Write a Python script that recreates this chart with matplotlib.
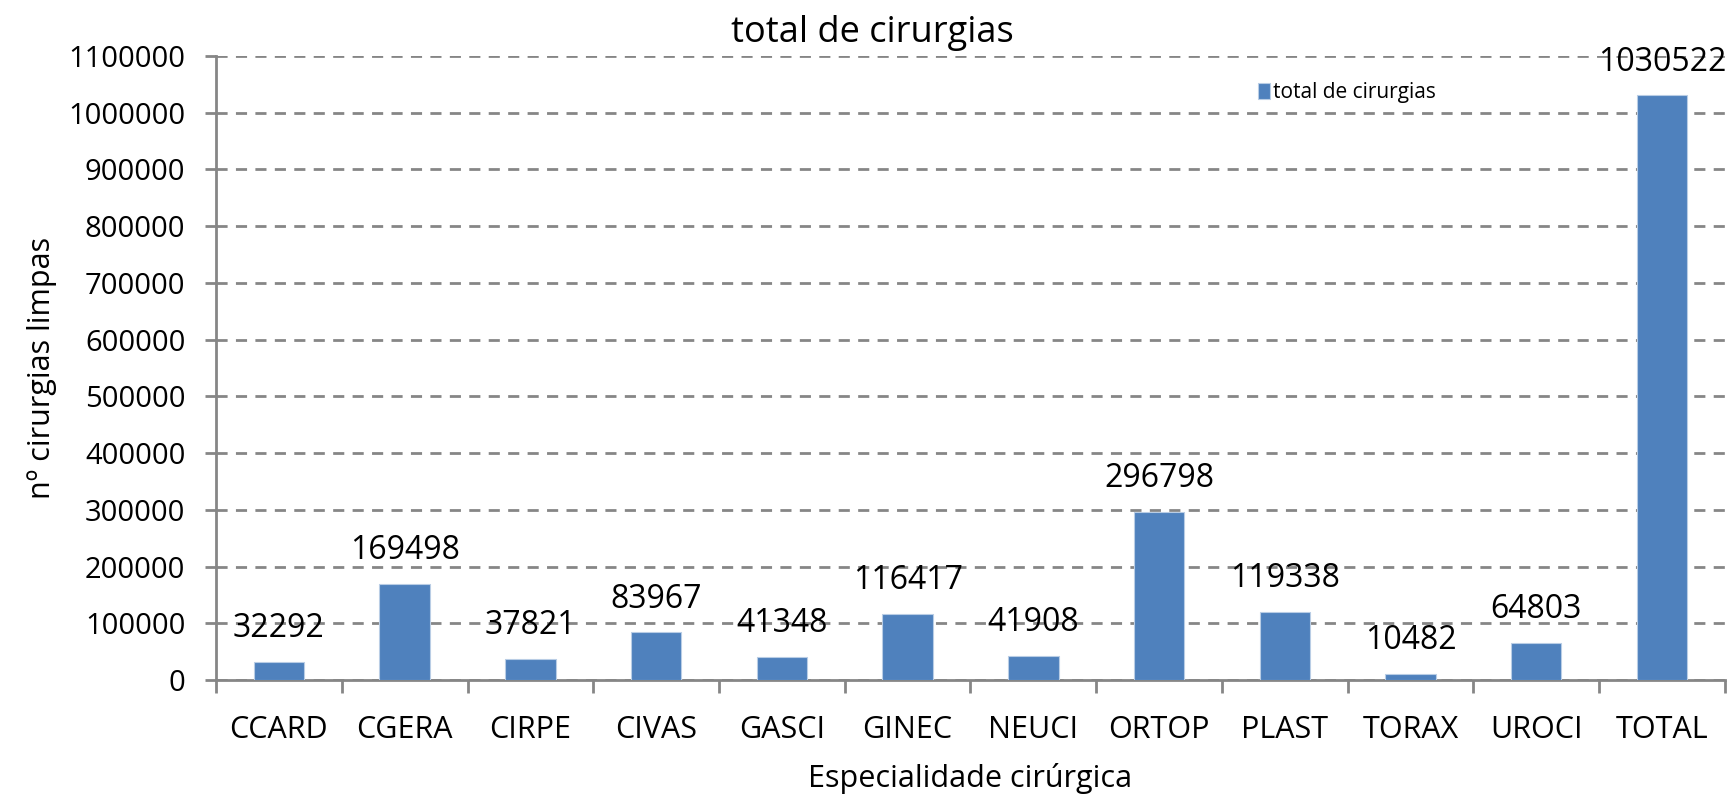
import numpy as np
import matplotlib
matplotlib.use('Agg')
import matplotlib.pyplot as plt

plt.rcParams['font.family'] = ['Open Sans', 'DejaVu Sans']

categorias = ['CCARD', 'CGERA', 'CIRPE', 'CIVAS', 'GASCI', 'GINEC',
              'NEUCI', 'ORTOP', 'PLAST', 'TORAX', 'UROCI', 'TOTAL']
total_cirurgias = [32292, 169498, 37821, 83967, 41348, 116417,
                   41908, 296798, 119338, 10482, 64803, 1030522]
yticks = list(range(0, 1100001, 100000))

cor = '#4F81BD'
cinza = '#868686'

fig = plt.figure(figsize=(17.31, 7.97), dpi=100)
ax = fig.add_axes([0.1248, 0.1468, 0.8717, 0.7829])

x = np.arange(len(categorias))
ax.bar(x, total_cirurgias, width=0.4, color=cor, edgecolor='#B9CDE5',
       linewidth=0.8, label='total de cirurgias', zorder=3)

for xi, v in zip(x, total_cirurgias):
    ax.annotate(str(v), (xi, v), xytext=(0, 24), textcoords='offset points',
                ha='center', va='center', fontsize=23, zorder=4)

ax.set_xlim(-0.5, len(categorias) - 0.5)
ax.set_ylim(0, 1100000)
ax.set_yticks(yticks)
ax.set_yticklabels([str(t) for t in yticks], fontsize=21)
ax.set_xticks(x)
ax.set_xticklabels(categorias, fontsize=22)
ax.tick_params(axis='x', length=0, pad=25)
ax.set_xticks(np.arange(len(categorias) + 1) - 0.5, minor=True)
ax.tick_params(axis='x', which='minor', length=9, width=2, color=cinza)
ax.tick_params(axis='y', length=8, width=2, color=cinza, pad=14)

ax.grid(axis='y', linestyle=(0, (4, 3)), color=cinza, linewidth=2, zorder=0)
for s in ['top', 'right']:
    ax.spines[s].set_visible(False)
for s in ['left', 'bottom']:
    ax.spines[s].set_color(cinza)
    ax.spines[s].set_linewidth(2)

fig.text(0.504, 0.958, 'total de cirurgias', fontsize=26, ha='center', va='center')
ax.set_ylabel('nº cirurgias limpas', fontsize=22, labelpad=8)
ax.set_xlabel('Especialidade cirúrgica', fontsize=22, labelpad=13)

ax.legend(loc='upper left', bbox_to_anchor=(0.685, 0.972), fontsize=15,
          frameon=False, handlelength=0.6, handleheight=0.8, handletextpad=0.1,
          borderaxespad=0)

fig.savefig('out.png', dpi=100)
